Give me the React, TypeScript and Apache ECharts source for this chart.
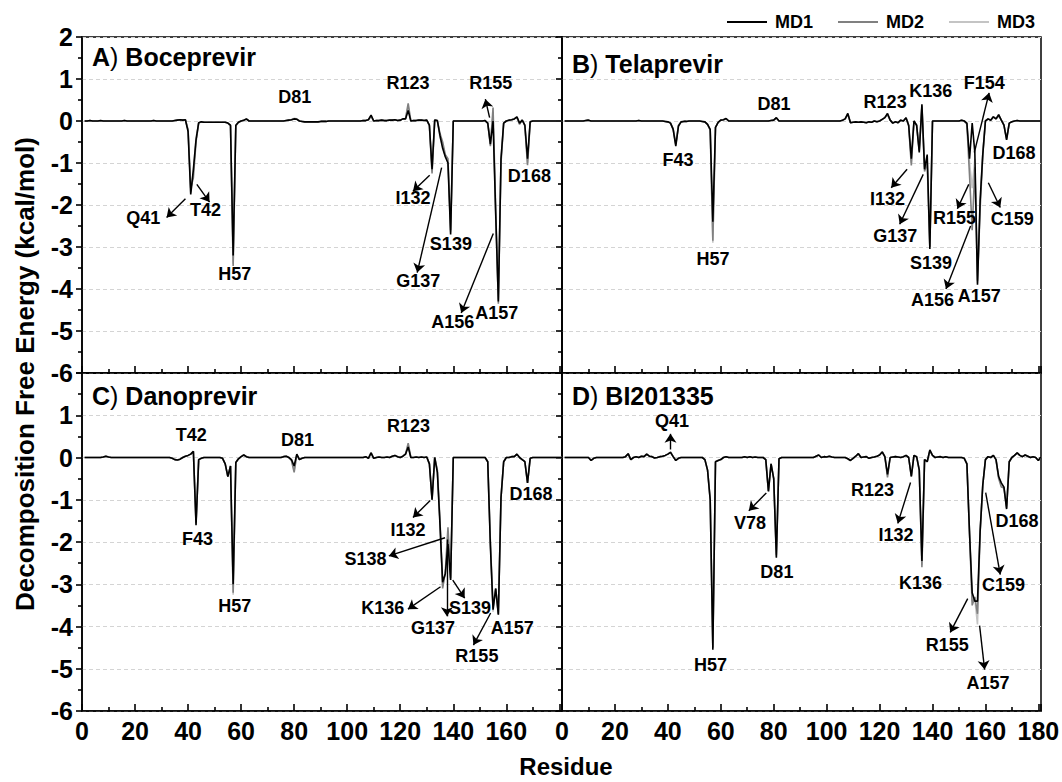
import React, { useEffect, useRef } from "react";
import * as echarts from "echarts";

// ---------------- data ----------------
const residues: number[] = Array.from({ length: 181 }, (_, i) => i + 1);
const X_MIN = 0;
const X_MAX = 181;
const Y_MIN = -6;
const Y_MAX = 2;
const seriesNames = ["MD1", "MD2", "MD3"];
const panelLetters = ["A", "B", "C", "D"];
const panelDrugs = ["Boceprevir", "Telaprevir", "Danoprevir", "BI201335"];

// Panel A: Boceprevir
const A_MD1 = [
  0, 0, 0.01, 0, 0, 0, 0.01, 0, 0, 0,
  0, 0, 0, 0, 0, 0.01, 0, 0, 0, 0,
  0, 0, 0, 0, 0, 0, 0.01, 0, 0, 0,
  0, 0, 0, 0, 0.01, 0.02, 0.03, 0.02, 0.03, -0.25,
  -1.75, -1.15, -0.45, -0.04, -0.02, -0.03, -0.03, -0.03, -0.03, -0.03,
  -0.03, -0.03, -0.03, -0.03, -0.05, -0.1, -3.2, -0.1, -0.03, 0,
  0.02, 0.05, 0, 0, 0, 0, 0, 0, 0, 0,
  0, 0, 0, 0, 0, 0, 0.01, 0.02, 0.03, 0.05,
  0.04, 0, -0.01, -0.02, -0.02, -0.02, -0.02, -0.02, -0.02, -0.01,
  -0.01, -0.01, 0, 0, 0, 0, 0, 0, 0, 0,
  0, 0, 0, 0, 0, 0.01, 0.01, 0.03, 0.14, 0,
  0.01, 0.01, 0.02, 0.01, 0.01, 0.02, 0.02, 0.03, 0.01, 0.02,
  0.05, 0.05, 0.25, 0, 0.01, 0.01, 0.02, 0.02, 0.01, 0.02,
  -0.1, -1.15, 0.02, 0.01, -0.35, -0.65, -0.85, -1.0, -2.7, 0,
  0, 0, 0, 0, 0, 0, 0, 0, 0, 0,
  0, 0.01, -0.05, -0.55, 0, -2.2, -4.3, -0.9, -0.05, 0,
  0.02, 0.03, 0.05, 0.1, -0.05, 0.02, -0.1, -0.9, -0.02, 0,
  0, 0, 0, 0, 0, 0, 0, 0, 0, 0,
  0,
];
const A_MD2 = [
  0, 0, 0.01, 0, 0, 0, 0, 0, 0, 0,
  0, 0, 0, 0, 0, 0.01, 0, 0, 0, 0,
  0, 0, 0, 0, 0, 0, 0.01, 0, 0, 0,
  0, 0, 0, 0, 0.01, 0.02, 0.03, 0.02, 0.02, -0.2,
  -1.6, -1.35, -0.5, -0.05, -0.02, -0.03, -0.03, -0.03, -0.03, -0.03,
  -0.03, -0.03, -0.03, -0.03, -0.05, -0.12, -3.45, -0.12, -0.03, 0,
  0.02, 0.04, 0, 0, 0, 0, 0, 0, 0, 0,
  0, 0, 0, 0, 0, 0, 0.01, 0.02, 0.03, 0.06,
  0.05, 0, -0.01, -0.02, -0.02, -0.02, -0.02, -0.02, -0.02, -0.01,
  -0.01, -0.01, 0, 0, 0, 0, 0, 0, 0, 0,
  0, 0, 0, 0, 0, 0.01, 0.01, 0.03, 0.12, 0,
  0.01, 0.01, 0.02, 0.01, 0.01, 0.02, 0.02, 0.03, 0.01, 0.02,
  0.05, 0.06, 0.42, 0, 0.01, 0.01, 0.02, 0.02, 0.01, 0.02,
  -0.12, -1.25, 0.02, 0.01, -0.3, -0.5, -0.8, -0.9, -2.6, 0,
  0, 0, 0, 0, 0, 0, 0, 0, 0, 0,
  0, 0.01, -0.05, -0.6, 0.32, -2.1, -4.35, -1.0, -0.05, 0,
  0.02, 0.03, 0.05, 0.08, -0.08, 0.02, -0.12, -1.05, -0.02, 0,
  0, 0, 0, 0, 0, 0, 0, 0, 0, 0,
  0,
];
const A_MD3 = [
  0, 0, 0.01, 0, 0, 0, 0.01, 0, 0, 0,
  0, 0, 0, 0, 0, 0.01, 0, 0, 0, 0,
  0, 0, 0, 0, 0, 0, 0.01, 0, 0, 0,
  0, 0, 0, 0, 0.01, 0.02, 0.03, 0.02, 0.03, -0.22,
  -1.7, -1.2, -0.4, -0.04, -0.02, -0.03, -0.03, -0.03, -0.03, -0.03,
  -0.03, -0.03, -0.03, -0.03, -0.05, -0.1, -3.4, -0.1, -0.03, 0,
  0.02, 0.05, 0, 0, 0, 0, 0, 0, 0, 0,
  0, 0, 0, 0, 0, 0, 0.01, 0.02, 0.03, 0.05,
  0.04, 0, -0.01, -0.02, -0.02, -0.02, -0.02, -0.02, -0.02, -0.01,
  -0.01, -0.01, 0, 0, 0, 0, 0, 0, 0, 0,
  0, 0, 0, 0, 0, 0.01, 0.01, 0.03, 0.1, 0,
  0.01, 0.01, 0.02, 0.01, 0.01, 0.02, 0.02, 0.03, 0.01, 0.02,
  0.05, 0.05, 0.35, 0, 0.01, 0.01, 0.02, 0.02, 0.01, 0.02,
  -0.1, -1.2, 0.02, 0.01, -0.4, -0.6, -0.85, -0.95, -2.65, 0,
  0, 0, 0, 0, 0, 0, 0, 0, 0, 0,
  0, 0.01, -0.05, -0.5, 0.15, -2.3, -4.25, -0.9, -0.05, 0,
  0.02, 0.03, 0.05, 0.1, -0.05, 0.02, -0.1, -1.0, -0.02, 0,
  0, 0, 0, 0, 0, 0, 0, 0, 0, 0,
  0,
];

// Panel B: Telaprevir
const B_MD1 = [
  0, 0, 0, 0, 0, 0, 0, 0, 0.01, 0.02,
  0, 0, 0, 0, 0, 0, 0, 0, 0, 0,
  0, 0, 0, 0, 0, 0, 0, 0, 0.01, 0,
  0, 0, 0, 0, 0, 0, 0, 0, -0.01, -0.02,
  -0.05, -0.2, -0.6, -0.12, -0.02, -0.01, -0.01, 0, 0, 0,
  0, 0, -0.01, -0.02, -0.08, -0.2, -2.4, -0.15, -0.03, 0.02,
  0.03, 0.06, 0, 0, 0, 0, 0, 0, 0, 0,
  0, 0, 0, 0, 0, 0, 0, 0, 0.01, 0.02,
  0.08, 0, 0, 0, 0, 0, 0, 0, 0, 0,
  0, 0, 0, 0, 0, 0, 0, 0, 0, 0,
  0, 0, 0, 0, 0, 0.02, 0.05, 0.18, -0.04, -0.03,
  -0.02, -0.03, -0.02, -0.03, -0.04, -0.02, -0.03, 0, -0.02, 0,
  0.04, 0.08, 0.18, 0.02, -0.05, -0.02, -0.04, 0.02, 0, 0.08,
  -0.1, -0.9, 0, -0.1, -0.75, 0.4, -1.15, -0.8, -3.05, 0,
  0, 0, 0, 0, 0, 0, 0, 0, 0, 0,
  0.02, 0, -0.05, -0.9, -0.05, -0.75, -3.9, -1.9, -0.8, 0,
  0.05, 0.02, 0.1, 0.05, 0.15, 0.02, -0.1, -0.45, -0.05, -0.02,
  0, 0.01, 0, 0, 0, 0, 0, 0, 0, 0,
  0,
];
const B_MD2 = [
  0, 0, 0, 0, 0, 0, 0, 0, 0.01, 0.02,
  0, 0, 0, 0, 0, 0, 0, 0, 0, 0,
  0, 0, 0, 0, 0, 0, 0, 0, 0.01, 0,
  0, 0, 0, 0, 0, 0, 0, 0, -0.01, -0.02,
  -0.05, -0.18, -0.55, -0.12, -0.02, -0.01, -0.01, 0, 0, 0,
  0, 0, -0.01, -0.02, -0.08, -0.22, -2.85, -0.15, -0.03, 0.02,
  0.03, 0.05, 0, 0, 0, 0, 0, 0, 0, 0,
  0, 0, 0, 0, 0, 0, 0, 0, 0.01, 0.02,
  0.07, 0, 0, 0, 0, 0, 0, 0, 0, 0,
  0, 0, 0, 0, 0, 0, 0, 0, 0, 0,
  0, 0, 0, 0, 0, 0.02, 0.05, 0.16, -0.04, -0.03,
  -0.02, -0.03, -0.02, -0.03, -0.04, -0.02, -0.03, 0, -0.02, 0,
  0.04, 0.08, 0.15, 0.02, -0.05, -0.02, -0.04, 0.02, 0, 0.07,
  -0.12, -1.06, 0, -0.1, -0.7, 0.35, -1.2, -1.0, -3.0, 0,
  0, 0, 0, 0, 0, 0, 0, 0, 0, 0,
  0.02, 0, -0.08, -1.3, -2.6, -1.1, -3.8, -2.1, -0.8, 0,
  0.05, 0.02, 0.1, 0.05, 0.12, 0.02, -0.1, -0.42, -0.05, -0.02,
  0, 0.01, 0, 0, 0, 0, 0, 0, 0, 0,
  0,
];
const B_MD3 = [
  0, 0, 0, 0, 0, 0, 0, 0, 0.01, 0.02,
  0, 0, 0, 0, 0, 0, 0, 0, 0, 0,
  0, 0, 0, 0, 0, 0, 0, 0, 0.01, 0,
  0, 0, 0, 0, 0, 0, 0, 0, -0.01, -0.02,
  -0.05, -0.2, -0.58, -0.1, -0.02, -0.01, -0.01, 0, 0, 0,
  0, 0, -0.01, -0.02, -0.08, -0.2, -2.9, -0.15, -0.03, 0.02,
  0.03, 0.06, 0, 0, 0, 0, 0, 0, 0, 0,
  0, 0, 0, 0, 0, 0, 0, 0, 0.01, 0.02,
  0.08, 0, 0, 0, 0, 0, 0, 0, 0, 0,
  0, 0, 0, 0, 0, 0, 0, 0, 0, 0,
  0, 0, 0, 0, 0, 0.02, 0.05, 0.18, -0.04, -0.03,
  -0.02, -0.03, -0.02, -0.03, -0.04, -0.02, -0.03, 0, -0.02, 0,
  0.04, 0.08, 0.18, 0.02, -0.05, -0.02, -0.04, 0.02, 0, 0.08,
  -0.1, -1.0, 0, -0.1, -0.72, 0.38, -1.1, -0.85, -3.0, 0,
  0, 0, 0, 0, 0, 0, 0, 0, 0, 0,
  0.02, 0, -0.06, -1.0, -1.6, -0.9, -3.85, -1.9, -0.75, 0,
  0.05, 0.02, 0.1, 0.05, 0.15, 0.02, -0.1, -0.45, -0.05, -0.02,
  0, 0.01, 0, 0, 0, 0, 0, 0, 0, 0,
  0,
];

// Panel C: Danoprevir
const C_MD1 = [
  0, 0, 0, 0, 0, 0, 0, 0.01, 0.03, 0.01,
  0, 0, 0, 0, 0, 0, 0, 0, 0, 0,
  0, 0, 0, 0, 0, 0, 0, 0, 0, 0,
  0, 0, 0, -0.02, -0.05, -0.06, -0.04, 0, 0.03, 0.05,
  0.08, 0.15, -1.6, -0.05, -0.02, 0, 0, 0, 0, 0,
  0, 0, -0.02, -0.15, -0.45, -0.2, -3.0, -0.12, -0.03, 0.02,
  0.06, 0.02, 0, 0, 0, 0, 0, 0, 0, 0,
  0, 0, 0, 0, 0, 0.02, 0.03, 0, -0.05, -0.2,
  0.08, -0.05, -0.02, 0, 0, 0, 0, 0, 0, 0,
  0, 0, 0, 0, 0, 0, 0, 0, 0, 0,
  0, 0, 0, 0, 0, 0, 0.02, -0.02, 0.11, -0.02,
  0, 0.01, 0, 0, 0.01, 0, 0.03, 0.05, 0.02, 0,
  0.03, 0.08, 0.25, 0, 0, 0.01, 0, 0.01, 0, 0.01,
  -0.15, -1.0, 0, -0.35, -1.6, -2.95, -2.75, -2.05, -2.9, 0,
  0, 0, 0, 0, 0, 0, 0, 0, 0, 0,
  0, 0, -0.1, -2.1, -3.6, -3.1, -3.72, -0.95, -0.1, 0,
  0, 0.02, 0.02, 0.08, 0, -0.05, -0.1, -0.6, -0.02, 0,
  0, 0, 0, 0, 0, 0, 0, 0, 0, 0,
  0,
];
const C_MD2 = [
  0, 0, 0, 0, 0, 0, 0, 0.01, 0.03, 0.01,
  0, 0, 0, 0, 0, 0, 0, 0, 0, 0,
  0, 0, 0, 0, 0, 0, 0, 0, 0, 0,
  0, 0, 0, -0.02, -0.05, -0.06, -0.04, 0, 0.03, 0.05,
  0.08, 0.14, -1.55, -0.05, -0.02, 0, 0, 0, 0, 0,
  0, 0, -0.02, -0.15, -0.45, -0.2, -3.2, -0.12, -0.03, 0.02,
  0.06, 0.02, 0, 0, 0, 0, 0, 0, 0, 0,
  0, 0, 0, 0, 0, 0.02, 0.03, 0, -0.08, -0.35,
  0.06, -0.05, -0.02, 0, 0, 0, 0, 0, 0, 0,
  0, 0, 0, 0, 0, 0, 0, 0, 0, 0,
  0, 0, 0, 0, 0, 0, 0.02, -0.02, 0.11, -0.02,
  0, 0.01, 0, 0, 0.01, 0, 0.03, 0.05, 0.02, 0,
  0.03, 0.08, 0.34, 0, 0, 0.01, 0, 0.01, 0, 0.01,
  -0.15, -1.0, 0, -0.3, -1.5, -3.1, -2.7, -1.65, -2.85, 0,
  0, 0, 0, 0, 0, 0, 0, 0, 0, 0,
  0, 0, -0.1, -2.0, -3.55, -3.1, -3.7, -0.95, -0.1, 0,
  0, 0.02, 0.02, 0.08, 0, -0.05, -0.1, -0.6, -0.02, 0,
  0, 0, 0, 0, 0, 0, 0, 0, 0, 0,
  0,
];
const C_MD3 = [
  0, 0, 0, 0, 0, 0, 0, 0.01, 0.03, 0.01,
  0, 0, 0, 0, 0, 0, 0, 0, 0, 0,
  0, 0, 0, 0, 0, 0, 0, 0, 0, 0,
  0, 0, 0, -0.02, -0.05, -0.06, -0.04, 0, 0.03, 0.05,
  0.08, 0.15, -1.58, -0.05, -0.02, 0, 0, 0, 0, 0,
  0, 0, -0.02, -0.15, -0.45, -0.2, -3.25, -0.12, -0.03, 0.02,
  0.06, 0.02, 0, 0, 0, 0, 0, 0, 0, 0,
  0, 0, 0, 0, 0, 0.02, 0.03, 0, -0.06, -0.3,
  0.07, -0.05, -0.02, 0, 0, 0, 0, 0, 0, 0,
  0, 0, 0, 0, 0, 0, 0, 0, 0, 0,
  0, 0, 0, 0, 0, 0, 0.02, -0.02, 0.11, -0.02,
  0, 0.01, 0, 0, 0.01, 0, 0.03, 0.05, 0.02, 0,
  0.03, 0.08, 0.3, 0, 0, 0.01, 0, 0.01, 0, 0.01,
  -0.15, -1.0, 0, -0.32, -1.55, -3.05, -2.75, -1.8, -2.9, 0,
  0, 0, 0, 0, 0, 0, 0, 0, 0, 0,
  0, 0, -0.1, -2.05, -3.65, -3.1, -3.72, -0.95, -0.1, 0,
  0, 0.02, 0.02, 0.08, 0, -0.05, -0.1, -0.6, -0.02, 0,
  0, 0, 0, 0, 0, 0, 0, 0, 0, 0,
  0,
];

// Panel D: BI201335
const D_MD1 = [
  0, 0, 0, 0, 0, 0, 0, 0, 0, 0,
  -0.07, -0.02, 0, 0, 0, 0, 0, 0, 0, 0,
  0, 0, 0, 0.02, 0.09, -0.05, 0, 0.02, 0, 0.03,
  0.02, 0.08, 0.03, 0.02, -0.01, 0, 0.02, 0.03, 0.05, 0.08,
  0.12, 0.02, -0.07, -0.02, 0, 0, 0, 0, 0, 0,
  0, 0, 0, -0.05, -0.3, -1.0, -4.55, -0.1, -0.07, -0.05,
  0, 0.02, 0, 0, 0, 0, 0, 0, 0.02, 0,
  0.02, 0, 0.01, 0, 0, 0, -0.05, -0.8, -0.15, -0.5,
  -2.37, -0.03, 0, 0, 0, 0, 0, 0, 0, 0,
  0, 0, 0, 0, 0, 0.03, 0.06, 0, 0.02, 0.01,
  0.03, 0.01, 0, 0, 0, 0, 0, -0.03, -0.07, -0.02,
  0.03, 0.09, 0, 0.01, 0.02, -0.02, 0, 0.01, 0.03, 0.06,
  0.13, 0.02, -0.4, 0, 0.01, 0.02, 0.01, 0, 0.02, 0.05,
  0, -0.45, 0.05, 0.02, -0.3, -2.45, -0.05, -0.1, 0.18, 0.05,
  0, 0.01, 0.02, 0, 0.02, 0, 0, 0, 0, 0,
  0, -0.02, -0.15, -1.8, -3.2, -3.4, -3.4, -1.75, -0.65, -0.05,
  0.02, 0, 0.05, -0.05, -0.45, -0.6, -0.7, -1.22, -0.1, 0,
  0.05, 0.11, 0.05, 0.02, 0.06, 0.03, 0, 0.02, 0, -0.07,
  0.02,
];
const D_MD2 = [
  0, 0, 0, 0, 0, 0, 0, 0, 0, 0,
  -0.07, -0.02, 0, 0, 0, 0, 0, 0, 0, 0,
  0, 0, 0, 0.02, 0.09, -0.05, 0, 0.02, 0, 0.03,
  0.02, 0.08, 0.03, 0.02, -0.01, 0, 0.02, 0.03, 0.05, 0.08,
  0.13, 0.02, -0.07, -0.02, 0, 0, 0, 0, 0, 0,
  0, 0, 0, -0.05, -0.3, -1.0, -4.5, -0.1, -0.07, -0.05,
  0, 0.02, 0, 0, 0, 0, 0, 0, 0.02, 0,
  0.02, 0, 0.01, 0, 0, 0, -0.05, -0.8, -0.15, -0.5,
  -2.3, -0.03, 0, 0, 0, 0, 0, 0, 0, 0,
  0, 0, 0, 0, 0, 0.03, 0.06, 0, 0.02, 0.01,
  0.03, 0.01, 0, 0, 0, 0, 0, -0.03, -0.07, -0.02,
  0.03, 0.09, 0, 0.01, 0.02, -0.02, 0, 0.01, 0.03, 0.06,
  0.13, 0.02, -0.47, 0, 0.01, 0.02, 0.01, 0, 0.02, 0.05,
  0, -0.45, 0.05, 0.02, -0.3, -2.6, -0.05, -0.1, 0.15, 0.05,
  0, 0.01, 0.02, 0, 0.02, 0, 0, 0, 0, 0,
  0, -0.02, -0.15, -1.8, -3.5, -3.3, -3.7, -1.75, -0.65, -0.05,
  0.02, 0, 0.05, -0.05, -0.5, -0.7, -0.72, -1.2, -0.1, 0,
  0.05, 0.11, 0.05, 0.02, 0.06, 0.03, 0, 0.02, 0, -0.07,
  0.02,
];
const D_MD3 = [
  0, 0, 0, 0, 0, 0, 0, 0, 0, 0,
  -0.07, -0.02, 0, 0, 0, 0, 0, 0, 0, 0,
  0, 0, 0, 0.02, 0.09, -0.05, 0, 0.02, 0, 0.03,
  0.02, 0.08, 0.03, 0.02, -0.01, 0, 0.02, 0.03, 0.05, 0.08,
  0.12, 0.02, -0.07, -0.02, 0, 0, 0, 0, 0, 0,
  0, 0, 0, -0.05, -0.3, -1.0, -4.5, -0.1, -0.07, -0.05,
  0, 0.02, 0, 0, 0, 0, 0, 0, 0.02, 0,
  0.02, 0, 0.01, 0, 0, 0, -0.05, -0.8, -0.15, -0.5,
  -2.35, -0.03, 0, 0, 0, 0, 0, 0, 0, 0,
  0, 0, 0, 0, 0, 0.03, 0.06, 0, 0.02, 0.01,
  0.03, 0.01, 0, 0, 0, 0, 0, -0.03, -0.07, -0.02,
  0.03, 0.09, 0, 0.01, 0.02, -0.02, 0, 0.01, 0.03, 0.06,
  0.13, 0.02, -0.42, 0, 0.01, 0.02, 0.01, 0, 0.02, 0.05,
  0, -0.45, 0.05, 0.02, -0.3, -2.55, -0.05, -0.1, 0.17, 0.05,
  0, 0.01, 0.02, 0, 0.02, 0, 0, 0, 0, 0,
  0, -0.02, -0.15, -1.8, -3.4, -3.35, -3.95, -1.75, -0.65, -0.05,
  0.02, 0, 0.05, -0.05, -0.45, -0.65, -0.7, -1.15, -0.1, 0,
  0.05, 0.11, 0.05, 0.02, 0.06, 0.03, 0, 0.02, 0, -0.07,
  0.02,
];

// residue annotations: [text, residue, energy]
const labelsA: [string, number, number][] = [
  ["Q41", 23.1, -2.32], ["T42", 46.6, -2.12], ["H57", 57.6, -3.65], ["D81", 80.2, 0.56],
  ["R123", 122.9, 0.9], ["R155", 154.1, 0.91], ["I132", 124.8, -1.83], ["S139", 139.1, -2.92],
  ["G137", 126.8, -3.8], ["A156", 139.8, -4.78], ["A157", 156.4, -4.57], ["D168", 168.7, -1.32],
];
const labelsB: [string, number, number][] = [
  ["F43", 43.8, -0.94], ["H57", 57.1, -3.28], ["D81", 80.1, 0.4], ["R123", 122.1, 0.46],
  ["K136", 139.3, 0.71], ["F154", 159.6, 0.9], ["D168", 170.8, -0.77], ["I132", 123, -1.85],
  ["G137", 125.9, -2.74], ["S139", 139.4, -3.37], ["R155", 148.3, -2.3], ["C159", 170.1, -2.34],
  ["A156", 140, -4.25], ["A157", 157.7, -4.17],
];
const labelsC: [string, number, number][] = [
  ["T42", 41.2, 0.54], ["F43", 43.6, -1.94], ["H57", 57.6, -3.52], ["D81", 81.3, 0.42],
  ["R123", 123.1, 0.74], ["I132", 122.9, -1.71], ["D168", 169.3, -0.87], ["S138", 106.9, -2.41],
  ["K136", 113.4, -3.56], ["G137", 132.4, -4.04], ["S139", 146.3, -3.56], ["A157", 162.2, -4.04],
  ["R155", 148.9, -4.71],
];
const labelsD: [string, number, number][] = [
  ["Q41", 41.6, 0.86], ["H57", 56.1, -4.91], ["V78", 71, -1.56], ["D81", 81.2, -2.71],
  ["R123", 117.3, -0.77], ["I132", 126.2, -1.84], ["K136", 135.5, -2.97], ["D168", 171.9, -1.5],
  ["C159", 166.8, -3.01], ["R155", 145.6, -4.44], ["A157", 161, -5.33],
];
// arrows: [fromResidue, fromEnergy, toResidue, toEnergy]
const arrowsA: number[][] = [
  [39, -1.85, 31.9, -2.3], [43.3, -1.51, 48.1, -1.93], [153.7, 0.08, 152.1, 0.52],
  [131.1, -1.29, 124.8, -1.67], [135.6, -1.11, 126.4, -3.61], [155.1, -2.68, 143, -4.57],
];
const arrowsB: number[][] = [
  [155.8, -0.75, 161.4, 0.67], [130.4, -1.15, 124.4, -1.59], [136.5, -1.27, 127.6, -2.46],
  [153.7, -1.51, 149.4, -2.09], [161.1, -1.47, 165.6, -2.06], [154.4, -2.5, 145.1, -4.0],
];
const arrowsC: number[][] = [
  [131.3, -1.02, 124.8, -1.42], [136.9, -1.9, 115.7, -2.33], [135.2, -3.06, 122.9, -3.59],
  [137.6, -1.94, 137.6, -3.76], [139.8, -2.9, 144.3, -3.33], [154.1, -3.68, 147.6, -4.44],
];
const arrowsD: number[][] = [
  [41, 0.19, 41, 0.56], [77.2, -0.84, 70.6, -1.26], [131.7, -0.59, 126.9, -1.56],
  [160.1, -0.83, 165.6, -2.77], [153.3, -3.34, 146.7, -4.14], [157.8, -3.98, 159.7, -5.02],
];

// ---------------- styling / layout ----------------
const FONT = '"Liberation Sans", Arial, Helvetica, sans-serif';
const LINE_COLORS = ["#000000", "#808080", "#c4c4c4"];
const PANELS = [
  { left: 82, top: 37, width: 480, height: 336, bottom: false, leftCol: true },
  { left: 562, top: 37, width: 479, height: 336, bottom: false, leftCol: false },
  { left: 82, top: 373, width: 480, height: 338, bottom: true, leftCol: true },
  { left: 562, top: 373, width: 479, height: 338, bottom: true, leftCol: false },
];
const TITLE_POS = [
  [92, 57], [572, 64], [92, 396], [572, 396],
];

function buildOption() {
  const panelData = [
    [A_MD1, A_MD2, A_MD3],
    [B_MD1, B_MD2, B_MD3],
    [C_MD1, C_MD2, C_MD3],
    [D_MD1, D_MD2, D_MD3],
  ];
  const panelLabels = [labelsA, labelsB, labelsC, labelsD];
  const panelArrows = [arrowsA, arrowsB, arrowsC, arrowsD];

  const grid = PANELS.map((p) => ({
    left: p.left,
    top: p.top,
    width: p.width,
    height: p.height,
    show: true,
    borderColor: "#000",
    borderWidth: 1.5,
    containLabel: false,
    outerBoundsMode: "none",
  }));

  const xAxis = PANELS.map((p, i) => ({
    gridIndex: i,
    type: "value",
    min: X_MIN,
    max: X_MAX,
    interval: 20,
    axisLine: { show: true, onZero: false, lineStyle: { color: "#000", width: 1.6 } },
    axisTick: { show: true, inside: true, length: 7, lineStyle: { color: "#000", width: 1.6 } },
    minorTick: { show: true, splitNumber: 2, length: 4, lineStyle: { color: "#000", width: 1.6 } },
    splitLine: { show: false },
    axisLabel: {
      show: p.bottom,
      margin: 7,
      color: "#000",
      fontSize: 25,
      fontWeight: "bold",
      fontFamily: FONT,
      formatter: (v: number) =>
        v % 20 === 0 && v <= (p.leftCol ? 160 : 180) ? String(v) : "",
    },
  }));

  const yAxis = PANELS.map((p, i) => ({
    gridIndex: i,
    type: "value",
    min: Y_MIN,
    max: Y_MAX,
    interval: 1,
    axisLine: { show: true, onZero: false, lineStyle: { color: "#000", width: 1.6 } },
    axisTick: { show: true, inside: false, length: 6, lineStyle: { color: "#000", width: 1.6 } },
    minorTick: { show: true, splitNumber: 2, length: 4, lineStyle: { color: "#000", width: 1.6 } },
    splitLine: { show: true, lineStyle: { color: "#d4d4d4", width: 1, type: [4, 3] } },
    axisLabel: {
      show: p.leftCol,
      margin: 9,
      color: "#000",
      fontSize: 25,
      fontWeight: "bold",
      fontFamily: FONT,
      formatter: (v: number) => (p.bottom && v === Y_MAX ? "" : String(v)),
    },
  }));

  const series: any[] = [];
  panelData.forEach((sets, pi) => {
    [2, 1, 0].forEach((k) => {
      series.push({
        type: "line",
        name: seriesNames[k],
        xAxisIndex: pi,
        yAxisIndex: pi,
        data: residues.map((r, idx) => [r, sets[k][idx]]),
        symbol: "none",
        showSymbol: false,
        silent: true,
        z: 3 + (2 - k),
        lineStyle: { color: LINE_COLORS[k], width: 1.6 },
        itemStyle: { color: LINE_COLORS[k] },
      });
    });
    series.push({
      type: "scatter",
      name: "labels" + panelLetters[pi],
      xAxisIndex: pi,
      yAxisIndex: pi,
      silent: true,
      z: 10,
      symbol: "circle",
      symbolSize: 2,
      itemStyle: { color: "rgba(255,255,255,0)", opacity: 1 },
      data: panelLabels[pi].map((l) => ({ name: l[0], value: [l[1], l[2]] })),
      label: {
        show: true,
        position: "inside",
        formatter: "{b}",
        color: "#000",
        opacity: 1,
        textBorderWidth: 0,
        fontSize: 18,
        fontWeight: "bold",
        fontFamily: FONT,
      },
      labelLayout: { hideOverlap: false },
      markLine: {
        silent: true,
        symbol: ["none", "arrow"],
        symbolSize: 9,
        label: { show: false },
        lineStyle: { color: "#000", width: 1.4, type: "solid", opacity: 1 },
        data: panelArrows[pi].map((a) => [
          { coord: [a[0], a[1]] },
          { coord: [a[2], a[3]] },
        ]),
      },
    });
  });

  const graphic: any[] = panelLetters.map((letter, i) => ({
    type: "text",
    x: TITLE_POS[i][0],
    y: TITLE_POS[i][1],
    silent: true,
    z: 20,
    style: {
      text: `{b|${letter}}{n|)}{b| ${panelDrugs[i]}}`,
      verticalAlign: "middle",
      align: "left",
      rich: {
        b: { fontSize: 25, fontWeight: "bold", fontFamily: FONT, fill: "#000" },
        n: { fontSize: 25, fontWeight: "normal", fontFamily: FONT, fill: "#000" },
      },
    },
  }));
  graphic.push({
    type: "text",
    x: 566,
    y: 766,
    silent: true,
    style: {
      text: "Residue",
      fontSize: 24,
      fontWeight: "bold",
      fontFamily: FONT,
      fill: "#000",
      align: "center",
      verticalAlign: "middle",
    },
  });
  graphic.push({
    type: "text",
    x: 25,
    y: 374,
    rotation: Math.PI / 2,
    silent: true,
    style: {
      text: "Decomposition Free Energy (kcal/mol)",
      fontSize: 26,
      fontWeight: "bold",
      fontFamily: FONT,
      fill: "#000",
      align: "center",
      verticalAlign: "middle",
    },
  });

  return {
    animation: false,
    backgroundColor: "#ffffff",
    textStyle: { fontFamily: FONT },
    legend: {
      data: seriesNames,
      left: 722,
      top: 8,
      icon: "rect",
      itemWidth: 40,
      itemHeight: 2,
      itemGap: 25,
      selectedMode: false,
      textStyle: {
        color: "#000",
        fontSize: 18,
        fontWeight: "bold",
        fontFamily: FONT,
        padding: [0, 0, 0, 3],
      },
    },
    grid,
    xAxis,
    yAxis,
    series,
    graphic,
  };
}

export default function App() {
  const ref = useRef<HTMLDivElement>(null);
  useEffect(() => {
    if (!ref.current) return;
    const chart = echarts.init(ref.current, undefined, { renderer: "svg" });
    chart.setOption(buildOption() as any);
    return () => {
      chart.dispose();
    };
  }, []);
  return (
    <div
      ref={ref}
      style={{
        position: "fixed",
        left: 0,
        top: 0,
        width: 1062,
        height: 782,
        background: "#fff",
      }}
    />
  );
}
